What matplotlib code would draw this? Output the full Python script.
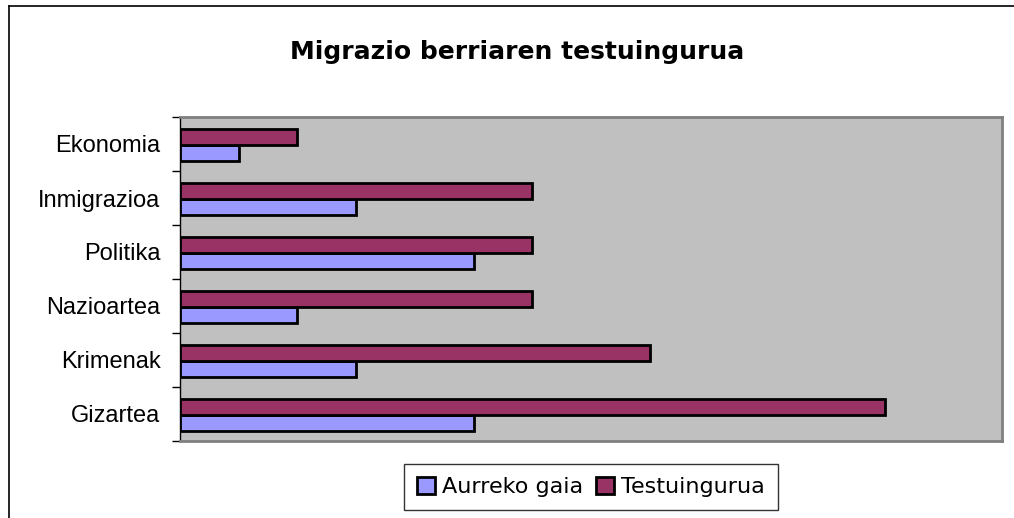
import matplotlib.pyplot as plt
from matplotlib.lines import Line2D
import numpy as np

categories = ['Gizartea', 'Krimenak', 'Nazioartea', 'Politika', 'Inmigrazioa', 'Ekonomia']
aurreko_gaia = [5, 3, 2, 5, 3, 1]
testuingurua = [12, 8, 6, 6, 6, 2]

W, H = 1014, 518
fig = plt.figure(figsize=(W / 100, H / 100), dpi=100)

# outer chart border (top and left visible)
fig.add_artist(Line2D([9 / W, 1.0], [1 - 6 / H, 1 - 6 / H], color='black', lw=1.2,
                      transform=fig.transFigure))
fig.add_artist(Line2D([9 / W, 9 / W], [0, 1 - 6 / H], color='black', lw=1.2,
                      transform=fig.transFigure))

ax = fig.add_axes([180 / W, 1 - 441 / H, (1002 - 180) / W, (441 - 117) / H])
ax.set_facecolor('#C0C0C0')

y = np.arange(len(categories))
h = 0.29
ax.barh(y - h / 2 - 0.02, aurreko_gaia, height=h, color='#9999FF',
        edgecolor='black', linewidth=2, label='Aurreko gaia')
ax.barh(y + h / 2 - 0.02, testuingurua, height=h, color='#993366',
        edgecolor='black', linewidth=2, label='Testuingurua')

ax.set_xlim(0, 14)
ax.set_ylim(-0.5, len(categories) - 0.5)
ax.set_xticks([])
ax.set_yticks(y)
ax.set_yticklabels(categories, fontsize=17, fontname='Liberation Sans')
ax.set_yticks(np.arange(-0.5, len(categories), 1), minor=True)
ax.tick_params(axis='y', which='major', length=0, pad=14)
ax.tick_params(axis='y', which='minor', length=6, width=1, color='black')

for side in ['top', 'right', 'bottom']:
    ax.spines[side].set_color('#808080')
    ax.spines[side].set_linewidth(2)
ax.spines['left'].set_color('black')
ax.spines['left'].set_linewidth(1)

fig.text(517 / W, 1 - 52 / H, 'Migrazio berriaren testuingurua', ha='center', va='center',
         fontsize=18, fontweight='bold', family='DejaVu Sans')

leg = fig.legend(loc='center', bbox_to_anchor=(591 / W, 1 - 487 / H), ncol=2,
                 prop={'family': 'DejaVu Sans', 'size': 16}, frameon=True,
                 fancybox=False, edgecolor='black',
                 handlelength=0.8, handleheight=0.8, handletextpad=0.3,
                 columnspacing=0.6, borderpad=0.6)
leg.get_frame().set_linewidth(1)

fig.savefig('out.png', dpi=100)
